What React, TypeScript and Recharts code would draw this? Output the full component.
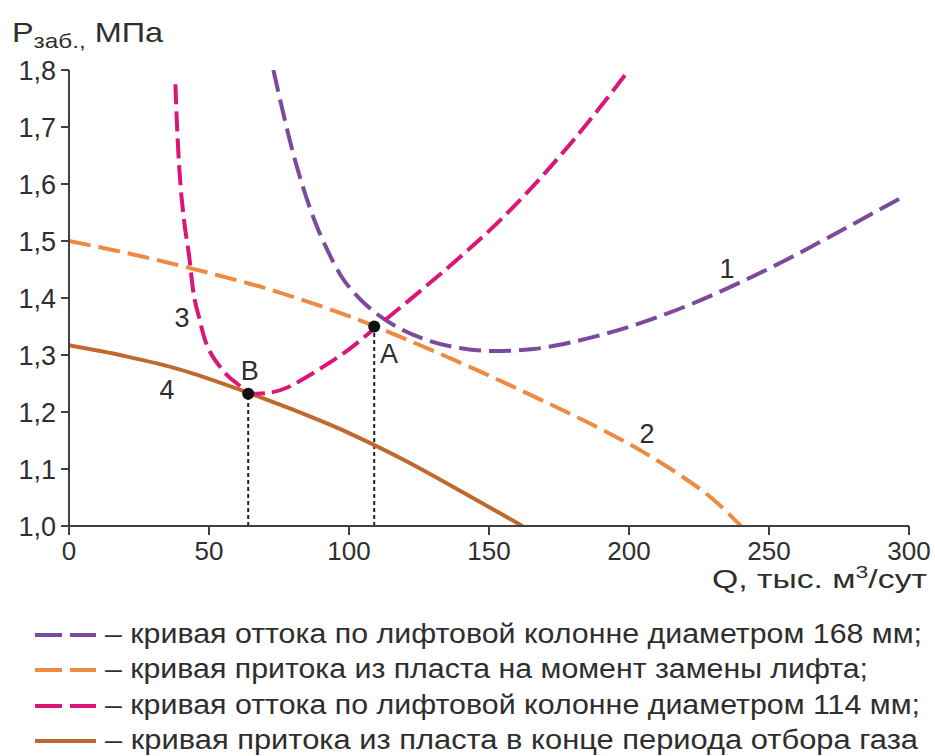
import React from "react";
import { LineChart, Line, XAxis, YAxis, ReferenceDot, ReferenceLine } from "recharts";

// Curve 1 – outflow through 168 mm lift column
const curve1Q = [73, 76, 80, 84, 88, 92, 97, 103, 110, 118, 128, 140, 152, 165, 180, 195, 210, 225, 240, 255, 270, 285, 298];
const curve1P = [1.8, 1.735, 1.655, 1.588, 1.532, 1.487, 1.44, 1.403, 1.372, 1.347, 1.326, 1.312, 1.307, 1.31, 1.323, 1.342, 1.366, 1.395, 1.428, 1.464, 1.503, 1.543, 1.578];

// Curve 2 – inflow at moment of lift replacement
const curve2Q = [0, 25, 50, 75, 100, 125, 150, 170, 190, 205, 218, 230, 240];
const curve2P = [1.5, 1.474, 1.444, 1.41, 1.368, 1.318, 1.264, 1.218, 1.17, 1.13, 1.09, 1.047, 1.0];

// Curve 3 – outflow through 114 mm lift column
const curve3Q = [38, 38.6, 39.5, 41, 43, 44.3, 46.5, 48.6, 51, 54, 57, 60, 64, 67, 72, 78, 83, 90, 100, 110, 120, 130, 142, 152, 164, 180, 200];
const curve3P = [1.775, 1.7, 1.62, 1.54, 1.47, 1.414, 1.365, 1.326, 1.3, 1.279, 1.262, 1.25, 1.235, 1.232, 1.234, 1.243, 1.256, 1.277, 1.31, 1.35, 1.39, 1.431, 1.482, 1.527, 1.587, 1.676, 1.8];

// Curve 4 – inflow at end of gas production period
const curve4Q = [0, 20, 40, 60, 80, 100, 120, 140, 162];
const curve4P = [1.317, 1.298, 1.274, 1.241, 1.204, 1.163, 1.115, 1.061, 1.0];

const xTicks = [0, 50, 100, 150, 200, 250, 300];
const yTicks = [1.0, 1.1, 1.2, 1.3, 1.4, 1.5, 1.6, 1.7, 1.8];

const pointA = { q: 109, p: 1.35, name: "A" };
const pointB = { q: 64, p: 1.232, name: "B" };

const curveLabels = [
  { q: 235, p: 1.453, text: "1" },
  { q: 206.4, p: 1.163, text: "2" },
  { q: 40.4, p: 1.367, text: "3" },
  { q: 35, p: 1.239, text: "4" },
  { q: 114.3, p: 1.303, text: "A" },
  { q: 64.6, p: 1.274, text: "B" },
];

const legendItems = [
  { color: "#7B4A9C", dashed: true, text: "– кривая оттока по лифтовой колонне диаметром 168 мм;", end: 922 },
  { color: "#EE8A42", dashed: true, text: "– кривая притока из пласта на момент замены лифта;", end: 868 },
  { color: "#DB1676", dashed: true, text: "– кривая оттока по лифтовой колонне диаметром 114 мм;", end: 920 },
  { color: "#C0692F", dashed: false, text: "– кривая притока из пласта в конце периода отбора газа", end: 918 },
];

const toData = (qs: number[], ps: number[]) => qs.map((q, i) => ({ x: q, y: ps[i] }));

const FONT = "'Liberation Sans', Arial, sans-serif";
const TEXT = "#2e2e2e";
const AXIS = "#404040";

const XTitle = () => (
  <text x={927} y={588} textAnchor="end" fontFamily={FONT} fontSize={25} fill={TEXT} textLength={215} lengthAdjust="spacingAndGlyphs">
    Q, тыс. м
    <tspan fontSize={17} dy={-10}>3</tspan>
    <tspan dy={10}>/сут</tspan>
  </text>
);

const YTitle = () => (
  <text x={12} y={42} fontFamily={FONT} fontSize={28} fill={TEXT} textLength={151} lengthAdjust="spacingAndGlyphs">
    P
    <tspan fontSize={21} dy={6}>заб.</tspan>
    <tspan fontSize={21}>,</tspan>
    <tspan dy={-6}> МПа</tspan>
  </text>
);

export default function App() {
  const s1 = toData(curve1Q, curve1P);
  const s2 = toData(curve2Q, curve2P);
  const s3 = toData(curve3Q, curve3P);
  const s4 = toData(curve4Q, curve4P);
  return (
    <div style={{ position: "absolute", left: 0, top: 0, width: 935, height: 756, background: "#fff" }}>
      <LineChart width={935} height={600} margin={{ top: 70, right: 26, bottom: 34, left: 0 }}>
        <XAxis
          dataKey="x"
          type="number"
          domain={[0, 300]}
          ticks={xTicks}
          allowDataOverflow
          height={40}
          tickSize={9}
          tickMargin={7}
          axisLine={{ stroke: AXIS, strokeWidth: 2 }}
          tickLine={{ stroke: AXIS, strokeWidth: 2 }}
          tick={{ fill: TEXT, fontSize: 26, fontFamily: FONT }}
          label={<XTitle />}
        />
        <YAxis
          type="number"
          domain={[1, 1.8]}
          ticks={yTicks}
          allowDataOverflow
          width={69}
          tickSize={8}
          tickMargin={5}
          axisLine={{ stroke: AXIS, strokeWidth: 2 }}
          tickLine={{ stroke: AXIS, strokeWidth: 2 }}
          tick={{ fill: TEXT, fontSize: 27, fontFamily: FONT }}
          tickFormatter={(v: number) => v.toFixed(1).replace(".", ",")}
          label={<YTitle />}
        />
        <ReferenceLine
          segment={[{ x: pointA.q, y: 1.0 }, { x: pointA.q, y: pointA.p }]}
          stroke="#222"
          strokeWidth={2}
          strokeDasharray="4 3"
        />
        <ReferenceLine
          segment={[{ x: pointB.q, y: 1.0 }, { x: pointB.q, y: pointB.p }]}
          stroke="#222"
          strokeWidth={2}
          strokeDasharray="4 3"
        />
        <Line data={s4} dataKey="y" type="monotone" stroke="#C0692F" strokeWidth={4} dot={false} isAnimationActive={false} />
        <Line data={s2} dataKey="y" type="monotone" stroke="#EE8A42" strokeWidth={4} strokeDasharray="22 8" dot={false} isAnimationActive={false} />
        <Line data={s1} dataKey="y" type="monotone" stroke="#7B4A9C" strokeWidth={4} strokeDasharray="22 8" dot={false} isAnimationActive={false} />
        <Line data={s3} dataKey="y" type="monotone" stroke="#DB1676" strokeWidth={4} strokeDasharray="20 7" dot={false} isAnimationActive={false} />
        <ReferenceDot x={pointA.q} y={pointA.p} r={6} fill="#111" stroke="none" />
        <ReferenceDot x={pointB.q} y={pointB.p} r={6} fill="#111" stroke="none" />
        {curveLabels.map((l) => (
          <ReferenceDot
            key={l.text}
            x={l.q}
            y={l.p}
            r={1}
            shape={(p: any) => (
              <text x={p.cx} y={p.cy} dy="0.36em" textAnchor="middle" fontFamily={FONT} fontSize={27} fill={TEXT}>
                {l.text}
              </text>
            )}
          />
        ))}
      </LineChart>
      <svg width={935} height={156} style={{ position: "absolute", left: 0, top: 600 }}>
        {legendItems.map((it, i) => {
          const cy = [35, 70, 106, 141][i];
          return (
            <g key={i}>
              {it.dashed ? (
                <>
                  <line x1={35} x2={62} y1={cy} y2={cy} stroke={it.color} strokeWidth={4} />
                  <line x1={70} x2={96} y1={cy} y2={cy} stroke={it.color} strokeWidth={4} />
                </>
              ) : (
                <line x1={35} x2={96} y1={cy} y2={cy} stroke={it.color} strokeWidth={4} />
              )}
              <text
                x={105}
                y={cy + 8}
                fontFamily={FONT}
                fontSize={27}
                fill={TEXT}
                textLength={it.end - 105}
                lengthAdjust="spacingAndGlyphs"
              >
                {it.text}
              </text>
            </g>
          );
        })}
      </svg>
    </div>
  );
}
